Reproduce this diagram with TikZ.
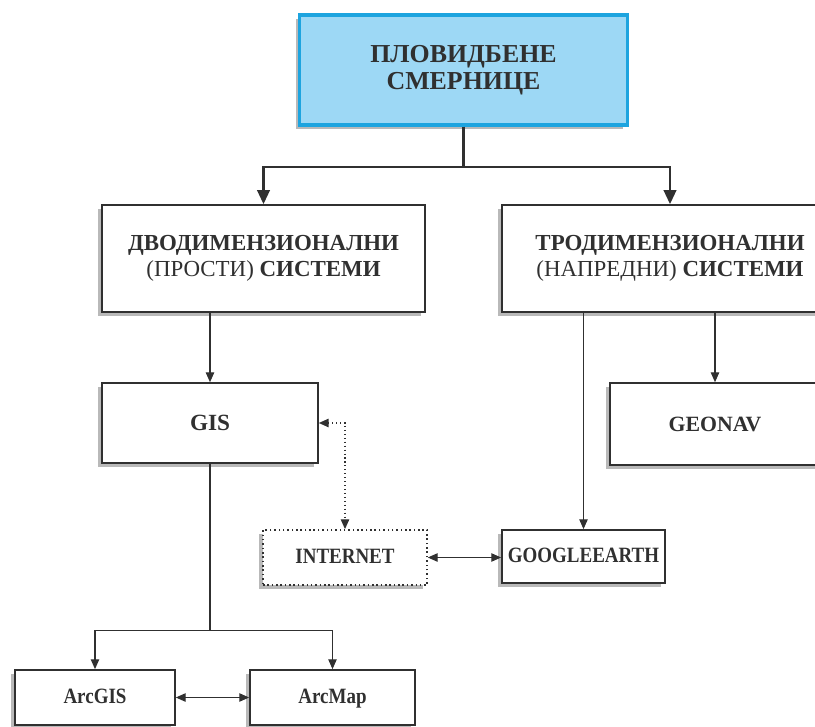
\documentclass[tikz,border=0pt]{standalone}
\usepackage{fontspec}
\setmainfont{Liberation Serif}
\usepackage{graphicx}
\usepackage{tikz}
\usetikzlibrary{shadows, arrows.meta}

\definecolor{boxblue}{HTML}{9DD8F5}
\definecolor{edgeblue}{HTML}{1DA4DF}
\definecolor{ink}{HTML}{303030}

\newcommand{\tallish}[1]{\scalebox{1}[1.15]{#1}}

\tikzset{
  box/.style={draw=ink, line width=1.1pt, fill=white, text=ink, align=center,
    drop shadow={shadow xshift=-3pt, shadow yshift=-3pt, opacity=0.55}},
  small/.style={font=\bfseries\fontsize{13.5}{15}\selectfont, text height=1.75ex, text depth=0ex},
  link/.style={draw=ink, line width=0.8pt},
  tip/.style={-{Stealth[length=7pt, width=6pt, inset=0pt]}},
  tips/.style={{Stealth[length=7pt, width=6pt, inset=0pt]}-{Stealth[length=7pt, width=6pt, inset=0pt]}},
}

\begin{document}
\begin{tikzpicture}[x=0.025cm, y=-0.025cm]
            \useasboundingbox (0,0) rectangle (815,727);
            \clip (0,0) rectangle (815,727);

            \node[box, fill=boxblue, draw=edgeblue, line width=2.2pt, minimum width=8.18cm, minimum height=2.75cm,
                  font=\bfseries\fontsize{18.4}{19}\selectfont] (top) at (463.5,70) {ПЛОВИДБЕНЕ\\СМЕРНИЦЕ};

            \node[box, minimum width=8.08cm, minimum height=2.68cm, font=\fontsize{16.3}{18}\selectfont] (dvo) at (263.5,258.5)
                  {\textbf{ДВОДИМЕНЗИОНАЛНИ}\\(ПРОСТИ) \textbf{СИСТЕМИ}};
            \node[box, minimum width=8.4cm, minimum height=2.68cm, font=\fontsize{16.3}{18}\selectfont] (tro) at (670,258.5)
                  {\textbf{ТРОДИМЕНЗИОНАЛНИ}\\(НАПРЕДНИ) \textbf{СИСТЕМИ}};

            \node[box, minimum width=5.4cm, minimum height=2cm, font=\bfseries\fontsize{16.5}{18}\selectfont] (gis) at (210,423) {GIS};
            \node[box, minimum width=5.25cm, minimum height=2.05cm, font=\bfseries\fontsize{15.5}{18}\selectfont] (geonav) at (715,424) {GEONAV};

            \node[box, small, dotted, minimum width=4.1cm, minimum height=1.38cm] (internet) at (345,557.5) {\tallish{INTERNET}};
            \node[box, small, minimum width=4.08cm, minimum height=1.33cm] (google) at (583.5,556.5) {\tallish{GOOGLEEARTH}};

            \node[box, small, minimum width=4cm, minimum height=1.38cm] (arcgis) at (95,697.5) {\tallish{ArcGIS}};
            \node[box, small, minimum width=4.13cm, minimum height=1.38cm] (arcmap) at (332.5,697.5) {\tallish{ArcMap}};

            % top fork
            \path (top.south) ++(0,40) coordinate (fork);
            \draw[link, line width=1.5pt] (top.south) -- (fork);
            \draw[link, line width=1.5pt, -{Stealth[length=10pt, width=9pt, inset=0pt]}] (fork) -| (dvo.north);
            \draw[link, line width=1.5pt, -{Stealth[length=10pt, width=9pt, inset=0pt]}] (fork) -| (tro.north);

            \draw[link, tip] (gis.north |- dvo.south) -- (gis.north);
            \draw[link, tip] (google.north |- tro.south) -- (google.north);
            \draw[link, tip] (geonav.north |- tro.south) -- (geonav.north);

            \draw[link, dotted, line width=1pt, tips] (gis.east) -| (internet.north);
            \draw[link, tips] (internet.east) -- (internet.east -| google.west);

            % GIS branches
            \path (gis.south) ++(0,167) coordinate (split);
            \draw[link] (gis.south) -- (split);
            \draw[link, tip] (split) -| (arcgis.north);
            \draw[link, tip] (split) -| (arcmap.north);
            \draw[link, tips] (arcgis.east) -- (arcmap.west);
\end{tikzpicture}
\end{document}
